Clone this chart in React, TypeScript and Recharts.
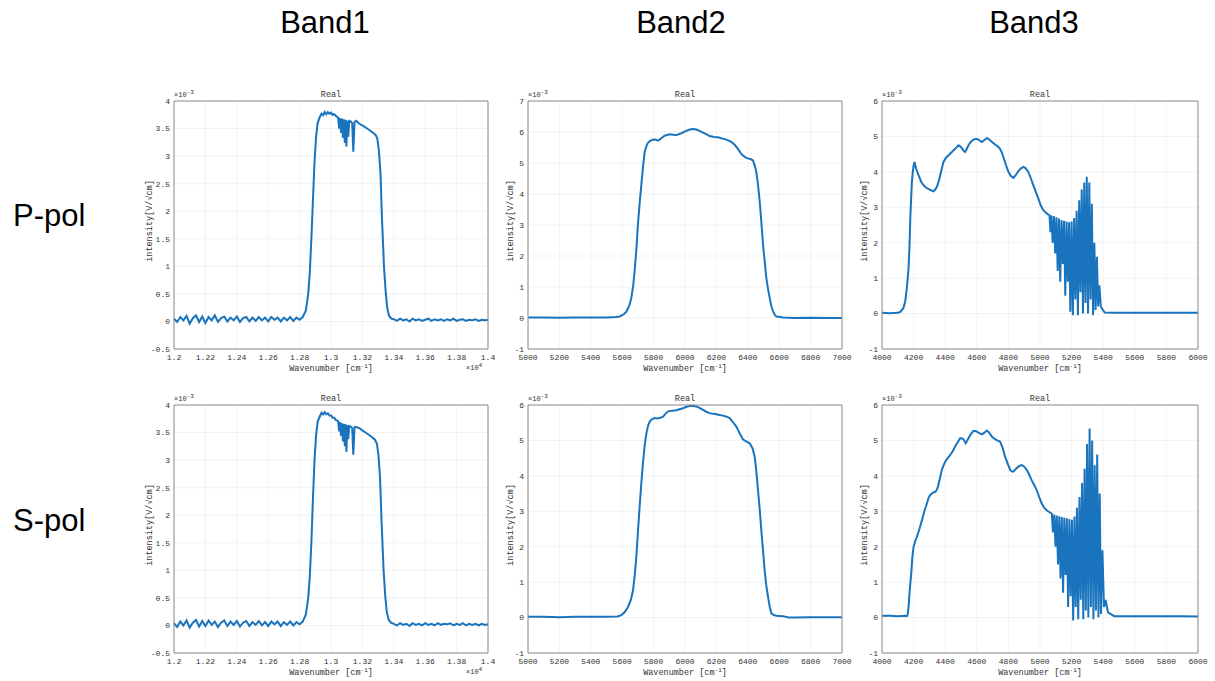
import React from 'react';
import { LineChart, Line, XAxis, YAxis, CartesianGrid } from 'recharts';

type Pt = [number, number];

// wavenumber [cm^-1], intensity [x1e-3 V/sqrt(cm)]
const band1P: Pt[] = [
  [12000, 0.05], [12020, -0.01], [12040, 0.08], [12060, 0.02], [12080, 0.1], [12100, -0.04], [12120, 0.06], [12140, 0.11],
  [12160, -0.01], [12180, 0.09], [12200, -0.03], [12220, 0.08], [12240, 0.02], [12260, 0.11], [12280, -0.01], [12300, 0.06],
  [12320, 0.09], [12340, 0.0], [12360, 0.07], [12380, 0.02], [12400, 0.09], [12420, -0.01], [12440, 0.06], [12460, 0.08],
  [12480, 0.0], [12500, 0.07], [12520, 0.01], [12540, 0.08], [12560, 0.02], [12580, 0.07], [12600, 0.0], [12620, 0.08],
  [12640, 0.03], [12660, 0.07], [12680, 0.0], [12700, 0.07], [12720, 0.02], [12740, 0.08], [12760, 0.01], [12780, 0.07],
  [12800, 0.03], [12820, 0.08], [12840, 0.2], [12855, 0.5], [12865, 0.9], [12875, 1.5], [12885, 2.2], [12895, 2.9],
  [12905, 3.35], [12915, 3.6], [12930, 3.72], [12940, 3.77], [12950, 3.74], [12960, 3.8], [12970, 3.76], [12980, 3.8],
  [12990, 3.77], [13000, 3.79], [13010, 3.75], [13020, 3.76], [13035, 3.72], [13045, 3.7], [13052, 3.5], [13058, 3.69],
  [13064, 3.42], [13070, 3.68], [13076, 3.33], [13082, 3.67], [13088, 3.24], [13094, 3.66], [13098, 3.17], [13104, 3.64],
  [13110, 3.35], [13116, 3.64], [13125, 3.63], [13135, 3.6], [13142, 3.08], [13150, 3.62], [13160, 3.64], [13175, 3.6],
  [13190, 3.57], [13210, 3.54], [13230, 3.5], [13250, 3.46], [13270, 3.42], [13285, 3.38], [13295, 3.32], [13305, 3.1],
  [13315, 2.7], [13325, 1.85], [13338, 0.97], [13348, 0.55], [13358, 0.25], [13370, 0.1], [13385, 0.05], [13400, 0.04],
  [13420, 0.01], [13440, 0.05], [13460, 0.02], [13480, 0.04], [13500, 0.0], [13520, 0.05], [13540, 0.02], [13560, 0.04],
  [13580, 0.01], [13600, 0.03], [13620, 0.05], [13640, 0.01], [13660, 0.04], [13680, 0.02], [13700, 0.04], [13720, 0.01],
  [13740, 0.04], [13760, 0.02], [13780, 0.05], [13800, 0.01], [13820, 0.03], [13840, 0.04], [13860, 0.01], [13880, 0.03],
  [13900, 0.02], [13920, 0.04], [13940, 0.01], [13960, 0.03], [13980, 0.02], [14000, 0.03],
];

const band1S: Pt[] = [
  [12000, 0.04], [12020, -0.03], [12040, 0.07], [12060, 0.0], [12080, 0.09], [12100, -0.04], [12120, 0.05], [12140, 0.1],
  [12160, -0.02], [12180, 0.08], [12200, -0.01], [12220, 0.09], [12240, 0.01], [12260, 0.07], [12280, -0.03], [12300, 0.05],
  [12320, 0.09], [12340, -0.01], [12360, 0.07], [12380, 0.01], [12400, 0.08], [12420, -0.02], [12440, 0.05], [12460, 0.08],
  [12480, -0.01], [12500, 0.06], [12520, 0.01], [12540, 0.08], [12560, 0.0], [12580, 0.06], [12600, -0.01], [12620, 0.07],
  [12640, 0.02], [12660, 0.07], [12680, -0.01], [12700, 0.06], [12720, 0.01], [12740, 0.07], [12760, 0.0], [12780, 0.06],
  [12800, 0.02], [12820, 0.07], [12840, 0.2], [12855, 0.5], [12865, 0.9], [12875, 1.5], [12885, 2.3], [12895, 3.0],
  [12905, 3.45], [12915, 3.7], [12930, 3.8], [12940, 3.86], [12950, 3.83], [12960, 3.87], [12970, 3.83], [12980, 3.85],
  [12990, 3.81], [13000, 3.81], [13010, 3.77], [13020, 3.77], [13030, 3.73], [13045, 3.71], [13052, 3.52], [13058, 3.69],
  [13064, 3.44], [13070, 3.67], [13076, 3.34], [13082, 3.66], [13088, 3.25], [13094, 3.65], [13098, 3.15], [13104, 3.63],
  [13110, 3.38], [13116, 3.62], [13125, 3.61], [13135, 3.58], [13142, 3.1], [13150, 3.6], [13160, 3.6], [13180, 3.58],
  [13200, 3.54], [13220, 3.5], [13240, 3.46], [13260, 3.42], [13280, 3.37], [13292, 3.3], [13302, 3.1], [13312, 2.7],
  [13322, 1.9], [13335, 1.0], [13345, 0.55], [13355, 0.25], [13368, 0.1], [13382, 0.05], [13400, 0.03], [13420, 0.0],
  [13440, 0.04], [13460, 0.01], [13480, 0.03], [13500, -0.01], [13520, 0.04], [13540, 0.01], [13560, 0.03], [13580, 0.0],
  [13600, 0.04], [13620, 0.01], [13640, 0.03], [13660, 0.0], [13680, 0.04], [13700, 0.01], [13720, 0.03], [13740, 0.02],
  [13760, 0.04], [13780, 0.0], [13800, 0.03], [13820, 0.01], [13840, 0.04], [13860, 0.0], [13880, 0.03], [13900, 0.01],
  [13920, 0.03], [13940, 0.0], [13960, 0.03], [13980, 0.01], [14000, 0.02],
];

const band2P: Pt[] = [
  [5000, 0.02], [5100, 0.02], [5200, 0.01], [5300, 0.02], [5400, 0.02], [5500, 0.02], [5560, 0.03], [5584, 0.05],
  [5610, 0.12], [5626, 0.2], [5645, 0.4], [5658, 0.64], [5670, 1.05], [5679, 1.5], [5690, 2.2], [5700, 3.0],
  [5711, 3.7], [5722, 4.3], [5733, 4.9], [5743, 5.36], [5755, 5.55], [5764, 5.65], [5780, 5.72], [5796, 5.75],
  [5812, 5.76], [5828, 5.72], [5840, 5.76], [5849, 5.8], [5870, 5.88], [5902, 5.93], [5925, 5.91], [5945, 5.9],
  [5977, 5.96], [6000, 6.02], [6030, 6.08], [6050, 6.1], [6072, 6.08], [6095, 6.03], [6115, 5.98], [6135, 5.93],
  [6157, 5.87], [6185, 5.84], [6210, 5.83], [6230, 5.8], [6253, 5.77], [6275, 5.73], [6295, 5.68], [6318, 5.58],
  [6338, 5.45], [6355, 5.32], [6369, 5.24], [6385, 5.18], [6401, 5.15], [6420, 5.12], [6433, 5.08], [6445, 4.9],
  [6454, 4.72], [6465, 4.3], [6476, 3.75], [6487, 3.05], [6497, 2.36], [6508, 1.8], [6518, 1.29], [6530, 0.9],
  [6540, 0.64], [6550, 0.38], [6561, 0.21], [6572, 0.1], [6582, 0.05], [6600, 0.04], [6624, 0.02], [6700, 0.0],
  [6800, 0.01], [6900, 0.0], [7000, 0.0],
];

const band2S: Pt[] = [
  [5000, 0.02], [5100, 0.02], [5200, 0.01], [5300, 0.02], [5400, 0.02], [5500, 0.02], [5570, 0.03], [5594, 0.07],
  [5615, 0.15], [5637, 0.3], [5655, 0.5], [5669, 0.77], [5680, 1.2], [5690, 1.72], [5700, 2.4], [5711, 3.13],
  [5722, 3.8], [5732, 4.35], [5743, 4.85], [5754, 5.2], [5765, 5.42], [5775, 5.53], [5790, 5.6], [5807, 5.63],
  [5823, 5.62], [5839, 5.63], [5860, 5.67], [5875, 5.75], [5892, 5.82], [5920, 5.84], [5945, 5.85], [5965, 5.88],
  [5987, 5.91], [6010, 5.95], [6030, 5.97], [6050, 5.98], [6072, 5.96], [6095, 5.91], [6115, 5.86], [6135, 5.81],
  [6157, 5.77], [6180, 5.75], [6200, 5.74], [6220, 5.72], [6242, 5.7], [6265, 5.67], [6284, 5.63], [6305, 5.52],
  [6327, 5.39], [6348, 5.2], [6369, 5.03], [6390, 4.97], [6412, 4.92], [6430, 4.78], [6444, 4.54], [6455, 4.1],
  [6465, 3.6], [6476, 3.05], [6486, 2.47], [6497, 1.9], [6507, 1.34], [6518, 0.9], [6529, 0.58], [6540, 0.3],
  [6550, 0.12], [6565, 0.07], [6582, 0.05], [6624, 0.04], [6660, 0.0], [6700, 0.0], [6800, 0.01], [6900, 0.01],
  [7000, 0.01],
];

const band3P: Pt[] = [
  [4000, 0.02], [4050, 0.01], [4100, 0.02], [4116, 0.05], [4135, 0.15], [4147, 0.34], [4158, 0.75], [4168, 1.28],
  [4174, 1.9], [4179, 2.68], [4184, 3.2], [4189, 3.71], [4195, 4.0], [4200, 4.18], [4206, 4.28], [4215, 4.1],
  [4232, 3.9], [4248, 3.72], [4263, 3.62], [4280, 3.55], [4295, 3.51], [4310, 3.48], [4326, 3.45], [4337, 3.5],
  [4347, 3.57], [4358, 3.72], [4368, 3.9], [4379, 4.1], [4389, 4.28], [4405, 4.4], [4421, 4.47], [4442, 4.56],
  [4463, 4.65], [4484, 4.75], [4495, 4.72], [4505, 4.67], [4516, 4.6], [4526, 4.56], [4537, 4.65], [4547, 4.75],
  [4563, 4.85], [4579, 4.91], [4595, 4.93], [4611, 4.91], [4622, 4.87], [4632, 4.84], [4648, 4.9], [4663, 4.95],
  [4674, 4.93], [4684, 4.89], [4700, 4.83], [4716, 4.77], [4732, 4.72], [4747, 4.65], [4758, 4.55], [4768, 4.42],
  [4784, 4.2], [4800, 4.0], [4816, 3.88], [4832, 3.83], [4848, 3.92], [4863, 4.02], [4880, 4.1], [4895, 4.14],
  [4910, 4.1], [4926, 4.0], [4942, 3.82], [4958, 3.62], [4974, 3.43], [4989, 3.25], [5005, 3.05], [5021, 2.92],
  [5037, 2.85], [5050, 2.8], [5060, 2.78], [5066, 2.3], [5072, 2.77], [5080, 2.0], [5088, 2.75], [5096, 1.7],
  [5104, 2.72], [5112, 1.2], [5120, 2.68], [5128, 0.9], [5136, 2.64], [5144, 1.4], [5152, 2.62], [5160, 0.5],
  [5168, 2.6], [5176, 0.9], [5184, 2.58], [5192, 0.05], [5200, 2.6], [5208, -0.05], [5216, 2.7], [5224, 0.4],
  [5232, 2.9], [5240, -0.05], [5248, 3.2], [5256, 0.6], [5264, 3.5], [5272, 0.0], [5280, 3.7], [5288, 0.3],
  [5296, 3.86], [5304, 0.0], [5312, 3.7], [5320, 0.4], [5328, 3.1], [5336, -0.05], [5344, 2.0], [5352, 0.1],
  [5360, 1.6], [5368, 0.2], [5376, 0.8], [5385, 0.2], [5395, 0.12], [5410, 0.03], [5450, 0.02], [5500, 0.02],
  [5600, 0.02], [5700, 0.02], [5800, 0.02], [5900, 0.02], [6000, 0.02],
];

const band3S: Pt[] = [
  [4000, 0.05], [4050, 0.05], [4100, 0.04], [4150, 0.05], [4158, 0.04], [4163, 0.1], [4168, 0.3], [4176, 0.8],
  [4185, 1.24], [4192, 1.7], [4200, 2.0], [4210, 2.15], [4221, 2.28], [4237, 2.5], [4253, 2.75], [4268, 3.0],
  [4284, 3.22], [4295, 3.38], [4305, 3.46], [4320, 3.52], [4337, 3.55], [4346, 3.6], [4354, 3.69], [4366, 3.92],
  [4379, 4.17], [4390, 4.3], [4400, 4.4], [4416, 4.5], [4432, 4.59], [4448, 4.7], [4463, 4.83], [4479, 4.95],
  [4495, 5.06], [4505, 5.06], [4516, 5.03], [4530, 4.92], [4538, 4.98], [4547, 5.06], [4563, 5.18], [4579, 5.27],
  [4595, 5.26], [4611, 5.22], [4622, 5.19], [4632, 5.17], [4648, 5.22], [4663, 5.28], [4679, 5.22], [4695, 5.11],
  [4711, 5.05], [4726, 5.01], [4747, 4.97], [4763, 4.8], [4779, 4.54], [4795, 4.35], [4811, 4.17], [4822, 4.12],
  [4832, 4.12], [4848, 4.2], [4863, 4.26], [4884, 4.31], [4900, 4.26], [4916, 4.17], [4932, 4.03], [4947, 3.88],
  [4963, 3.74], [4979, 3.6], [4995, 3.4], [5011, 3.22], [5026, 3.1], [5042, 3.03], [5058, 2.98], [5075, 2.93],
  [5082, 2.4], [5090, 2.91], [5098, 2.0], [5106, 2.88], [5114, 1.5], [5122, 2.86], [5130, 1.1], [5138, 2.84],
  [5146, 0.7], [5154, 2.82], [5162, 1.2], [5170, 2.8], [5178, 0.3], [5186, 2.78], [5194, 0.6], [5202, 2.76],
  [5210, -0.08], [5218, 2.85], [5226, 0.3], [5234, 3.1], [5242, -0.05], [5250, 3.4], [5258, 0.5], [5266, 3.8],
  [5274, -0.05], [5282, 4.2], [5290, 0.2], [5298, 4.9], [5306, 0.0], [5314, 5.34], [5322, 0.3], [5330, 5.0],
  [5338, -0.05], [5346, 4.3], [5354, 0.2], [5362, 4.6], [5370, 0.0], [5378, 3.5], [5386, 0.1], [5395, 1.9],
  [5405, 0.3], [5415, 0.5], [5430, 0.15], [5470, 0.04], [5500, 0.04], [5600, 0.04], [5700, 0.04], [5800, 0.04],
  [5900, 0.04], [6000, 0.03],
];

const band1XTicks = [12000, 12200, 12400, 12600, 12800, 13000, 13200, 13400, 13600, 13800, 14000];
const band2XTicks = [5000, 5200, 5400, 5600, 5800, 6000, 6200, 6400, 6600, 6800, 7000];
const band3XTicks = [4000, 4200, 4400, 4600, 4800, 5000, 5200, 5400, 5600, 5800, 6000];
const band1YTicks = [-0.5, 0, 0.5, 1, 1.5, 2, 2.5, 3, 3.5, 4];
const band2PYTicks = [-1, 0, 1, 2, 3, 4, 5, 6, 7];
const sixYTicks = [-1, 0, 1, 2, 3, 4, 5, 6];

const bandTitles = ['Band1', 'Band2', 'Band3'];
const rowTitles = ['P-pol', 'S-pol'];

const LINE = '#1a74bd';
const AXIS = '#8c8c8c';
const TXT = '#333';
const MONO = '"Liberation Mono", "DejaVu Sans Mono", monospace';
const SANS = '"Liberation Sans", Arial, sans-serif';

interface PanelProps {
  data: Pt[];
  left: number;
  top: number;
  w: number;
  h: number;
  xTicks: number[];
  yTicks: number[];
  scaled?: boolean;
  labelGap: number;
}

const YW = 40; // left axis width
const XH = 30; // bottom axis height
const MT = 8; // room above the plot so the top tick label is not clipped
const MR = 14; // room on the right for the last x tick label

const Panel: React.FC<PanelProps> = ({ data, left, top, w, h, xTicks, yTicks, scaled, labelGap }) => {
  const rows = data.map(([wn, v]) => ({ wn, v }));
  const xDomain = [xTicks[0], xTicks[xTicks.length - 1]];
  const yDomain = [yTicks[0], yTicks[yTicks.length - 1]];
  const fmtX = (v: number) => (scaled ? String(v / 10000) : String(v));
  const pt = MT + 1; // plot top inside the wrapper
  const small: React.CSSProperties = { position: 'absolute', fontFamily: MONO, fontSize: 8.5, color: TXT, lineHeight: '9px', whiteSpace: 'nowrap' };
  const sup: React.CSSProperties = { fontSize: 6, position: 'relative', top: -3 };

  return (
    <div style={{ position: 'absolute', left: left - YW, top: top - pt }}>
      <LineChart width={YW + w + 1 + MR} height={pt + h + XH} data={rows} margin={{ top: MT, right: MR, bottom: 0, left: 0 }}>
        <CartesianGrid stroke="#f3f3f3" />
        <XAxis
          type="number"
          dataKey="wn"
          domain={xDomain}
          ticks={xTicks}
          interval={0}
          tickFormatter={fmtX}
          height={XH}
          tickSize={4}
          tickMargin={1}
          tickLine={false}
          axisLine={{ stroke: AXIS }}
          tick={{ fontSize: 8, fill: TXT, fontFamily: MONO }}
        />
        <XAxis xAxisId="top" orientation="top" type="number" dataKey="wn" domain={xDomain} height={1} tick={false} tickLine={false} axisLine={{ stroke: AXIS }} />
        <YAxis
          type="number"
          domain={yDomain}
          ticks={yTicks}
          interval={0}
          width={YW}
          tickSize={4}
          tickMargin={0}
          tickLine={false}
          axisLine={{ stroke: AXIS }}
          tick={{ fontSize: 8, fill: TXT, fontFamily: MONO }}
        />
        <YAxis yAxisId="right" orientation="right" type="number" domain={yDomain} width={1} tick={false} tickLine={false} axisLine={{ stroke: AXIS }} />
        <Line type="linear" dataKey="v" stroke={LINE} strokeWidth={2} dot={false} isAnimationActive={false} />
      </LineChart>

      <div style={{ ...small, left: YW + w / 2, top: pt - 10, transform: 'translateX(-50%)' }}>Real</div>
      <div style={{ ...small, left: YW, top: pt - 10, fontSize: 7 }}>
        ×10<span style={sup}>-3</span>
      </div>
      <div style={{ ...small, left: YW + w / 2, top: pt + h + 16, transform: 'translateX(-50%)' }}>
        Wavenumber [cm<span style={sup}>-1</span>]
      </div>
      {scaled && (
        <div style={{ ...small, left: YW + w - 22, top: pt + h + 15, fontSize: 7 }}>
          ×10<span style={sup}>4</span>
        </div>
      )}
      <div
        style={{
          ...small,
          left: YW - labelGap,
          top: pt + h / 2 - 4,
          transform: 'translate(-50%, -50%) rotate(-90deg)',
        }}
      >
        intensity[V/√cm]
      </div>
    </div>
  );
};

const App: React.FC = () => {
  const colX = [174, 528, 882];
  const colW = [314, 314, 316];
  const rowY = [101, 405];
  const rowH = [248, 248];
  const bandCenters = [325, 681, 1034];
  const rowLabelTops = [200, 505];

  return (
    <div style={{ position: 'absolute', left: 0, top: 0, width: 1215, height: 681, background: '#fff', overflow: 'hidden' }}>
      {bandTitles.map((t, i) => (
        <div
          key={t}
          style={{ position: 'absolute', left: bandCenters[i], top: 7, transform: 'translateX(-50%)', fontFamily: SANS, fontSize: 31, lineHeight: '31px', color: '#000' }}
        >
          {t}
        </div>
      ))}
      {rowTitles.map((t, i) => (
        <div key={t} style={{ position: 'absolute', left: 13, top: rowLabelTops[i], fontFamily: SANS, fontSize: 31, lineHeight: '31px', color: '#000' }}>
          {t}
        </div>
      ))}

      <Panel data={band1P} left={colX[0]} top={rowY[0]} w={colW[0]} h={rowH[0]} xTicks={band1XTicks} yTicks={band1YTicks} scaled labelGap={24} />
      <Panel data={band2P} left={colX[1]} top={rowY[0]} w={colW[1]} h={rowH[0]} xTicks={band2XTicks} yTicks={band2PYTicks} labelGap={17} />
      <Panel data={band3P} left={colX[2]} top={rowY[0]} w={colW[2]} h={rowH[0]} xTicks={band3XTicks} yTicks={sixYTicks} labelGap={17} />
      <Panel data={band1S} left={colX[0]} top={rowY[1]} w={colW[0]} h={rowH[1]} xTicks={band1XTicks} yTicks={band1YTicks} scaled labelGap={24} />
      <Panel data={band2S} left={colX[1]} top={rowY[1]} w={colW[1]} h={rowH[1]} xTicks={band2XTicks} yTicks={sixYTicks} labelGap={17} />
      <Panel data={band3S} left={colX[2]} top={rowY[1]} w={colW[2]} h={rowH[1]} xTicks={band3XTicks} yTicks={sixYTicks} labelGap={17} />
    </div>
  );
};

export default App;
